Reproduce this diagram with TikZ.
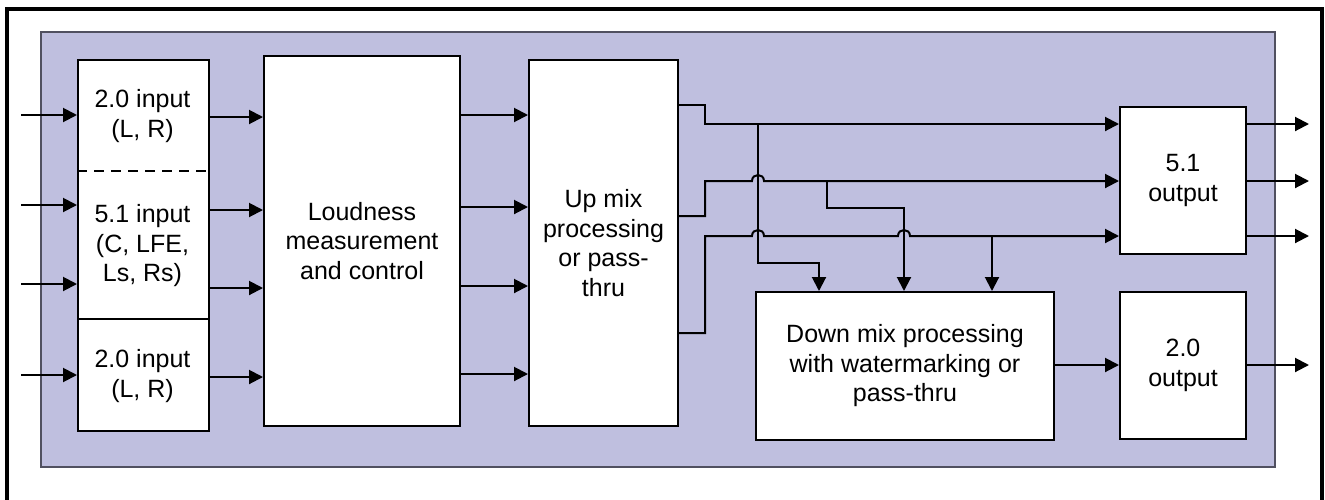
\documentclass[tikz,border=0pt]{standalone}
\usepackage{fontspec}
\setmainfont{Liberation Sans}
\usetikzlibrary{arrows.meta}
\definecolor{panel}{RGB}{191,191,223}
\definecolor{panelline}{RGB}{80,80,96}
\tikzset{
  box/.style={draw=black, fill=white, line width=2pt, inner sep=0pt},
  lbl/.style={align=center, font=\fontsize{25}{29.5}\selectfont, inner sep=0pt},
  wire/.style={line width=2pt, line join=miter},
  arr/.style={wire, -{Triangle[length=14pt,width=14pt]}},
}
\begin{document}
\begin{tikzpicture}[x=1pt,y=-1pt]
\useasboundingbox (0,0) rectangle (1325,499);
% outer frame
\draw[line width=3.2pt] (7,505) -- (7,9) -- (1322,9) -- (1322,505);
% panel
\draw[fill=panel, draw=panelline, line width=1.3pt] (41,32) rectangle (1275,467);

% boxes
\node[box, minimum width=131pt, minimum height=371pt, anchor=north west] (inbox) at (77,59) {};
\draw[line width=2.6pt, dash pattern=on 10pt off 7pt] (inbox.west |- 0,171) -- (inbox.east |- 0,171);
\draw[line width=2pt] (inbox.west |- 0,319) -- (inbox.east |- 0,319);
\node[lbl] (t1) at (142.5,116) {2.0 input\\(L, R)};
\node[lbl] (t2) at (142.5,246) {5.1 input\\(C, LFE,\\Ls, Rs)};
\node[lbl] (t3) at (142.5,376) {2.0 input\\(L, R)};

\node[box, minimum width=196pt, minimum height=370pt, anchor=north west, lbl] (loud) at (263,55) {Loudness\\measurement\\and control};
\node[box, minimum width=149pt, minimum height=366pt, anchor=north west, lbl] (up) at (528,59) {Up mix\\processing\\or pass-\\thru};
\node[box, minimum width=298pt, minimum height=148pt, anchor=north west, lbl] (down) at (755,291) {Down mix processing\\with watermarking or\\pass-thru};
\node[box, minimum width=126pt, minimum height=147pt, anchor=north west, lbl] (o51) at (1119,106) {5.1\\output};
\node[box, minimum width=126pt, minimum height=147pt, anchor=north west, lbl] (o20) at (1119,291) {2.0\\output};

% external inputs
\foreach \y/\n in {115/a,205/b,284/c,375/d} {
  \coordinate (ext\n) at (21,\y);
  \draw[arr] (ext\n) -- (inbox.west |- ext\n);
}
% input -> loudness
\foreach \y in {117,210,288,377} {
  \draw[arr] (inbox.east |- 0,\y) -- (loud.west |- 0,\y);
}
% loudness -> upmix
\foreach \y in {115,207,286,374} {
  \draw[arr] (loud.east |- 0,\y) -- (up.west |- 0,\y);
}
% upmix outputs
\draw[arr] (up.east |- 0,105) -- (705,105) -- (705,124) -- (o51.west |- 0,124);
\draw[arr] (up.east |- 0,216) -- (705,216) -- (705,181) -- (752,181)
  .. controls (752,173) and (764,173) .. (764,181) -- (o51.west |- 0,181);
\draw[arr] (up.east |- 0,333) -- (705,333) -- (705,236) -- (752,236)
  .. controls (752,228) and (764,228) .. (764,236) -- (898,236)
  .. controls (898,228) and (910,228) .. (910,236) -- (o51.west |- 0,236);
% branches to down mix
\draw[arr] (758,124) -- (758,263) -- (819,263) -- (down.north -| 819,0);
\draw[arr] (827,181) -- (827,208) -- (904,208) -- (down.north -| 904,0);
\draw[arr] (992,236) -- (down.north -| 992,0);
% down mix -> 2.0 output
\draw[arr] (down.east |- 0,365) -- (o20.west |- 0,365);
% outputs
\foreach \y/\n in {124/a,181/b,236/c} {
  \coordinate (out\n) at (1309,\y);
  \draw[arr] (o51.east |- out\n) -- (out\n);
}
\coordinate (outd) at (1309,365);
\draw[arr] (o20.east |- outd) -- (outd);
\end{tikzpicture}
\end{document}
